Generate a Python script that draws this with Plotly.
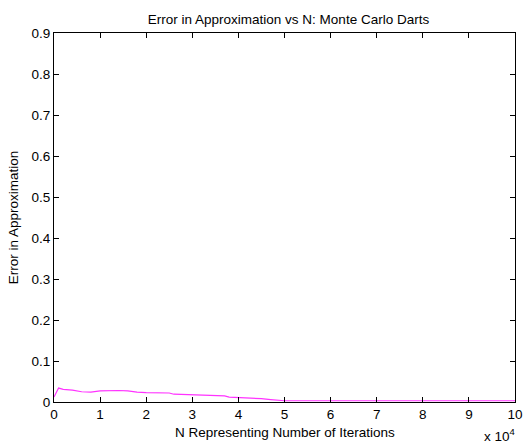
import plotly.graph_objects as go

# Number of darts thrown (iterations)
n_iterations = [0, 1000, 2000, 4000, 6000, 8000, 10000, 12000, 14000, 16000,
                17000, 18000, 20000, 25000, 26000, 28000, 30000, 33000, 37000,
                38000, 40000, 43000, 45000, 47000, 48000, 50000, 60000, 70000,
                80000, 90000, 100000]
# Absolute error of the pi estimate at each N
approx_error = [0.012, 0.034, 0.031, 0.029, 0.025, 0.024, 0.027, 0.028, 0.028,
                0.027, 0.025, 0.024, 0.023, 0.022, 0.019, 0.018, 0.017, 0.016,
                0.015, 0.012, 0.011, 0.010, 0.008, 0.006, 0.005, 0.003, 0.003,
                0.003, 0.003, 0.003, 0.003]

x_tick_vals = [0, 10000, 20000, 30000, 40000, 50000, 60000, 70000, 80000, 90000, 100000]
x_tick_text = ["0", "1", "2", "3", "4", "5", "6", "7", "8", "9", "10"]
y_tick_vals = [0, 0.1, 0.2, 0.3, 0.4, 0.5, 0.6, 0.7, 0.8, 0.9]
y_tick_text = ["0", "0.1", "0.2", "0.3", "0.4", "0.5", "0.6", "0.7", "0.8", "0.9"]

FONT = "Liberation Sans, Arial, sans-serif"
FSIZE = 13.5

fig = go.Figure()
fig.add_trace(go.Scatter(
    x=n_iterations, y=approx_error, mode="lines",
    line=dict(color="#ff33ff", width=1.2),
    showlegend=False,
))

axis_common = dict(
    showgrid=False, zeroline=False, showline=True, linecolor="#000000",
    linewidth=1, mirror="ticks", ticks="inside", ticklen=5, tickcolor="#000000",
    tickfont=dict(family=FONT, size=FSIZE, color="#000000"),
    ticklabeloverflow="allow",
)

fig.update_layout(
    width=530, height=444,
    margin=dict(l=54, r=7, t=33, b=42),
    paper_bgcolor="#ffffff", plot_bgcolor="#ffffff",
    font=dict(family=FONT, size=FSIZE, color="#000000"),
    title=dict(text="Error in Approximation vs N: Monte Carlo Darts",
               x=(54 + 523) / 2 / 530, xanchor="center",
               y=1 - 19 / 444, yanchor="middle",
               font=dict(family=FONT, size=FSIZE, color="#000000")),
    xaxis=dict(range=[0, 100000], tickvals=x_tick_vals, ticktext=x_tick_text,
               **axis_common),
    yaxis=dict(range=[0, 0.9], tickvals=y_tick_vals, ticktext=y_tick_text,
               **axis_common),
    annotations=[
        dict(text="N Representing Number of Iterations", xref="paper", yref="paper",
             x=0.5, y=(402 - 432) / 369, xanchor="center", yanchor="middle",
             showarrow=False, font=dict(family=FONT, size=FSIZE, color="#000000")),
        dict(text="Error in Approximation", xref="paper", yref="paper",
             x=(13 - 54) / 469, y=0.5, xanchor="center", yanchor="middle",
             textangle=-90, showarrow=False,
             font=dict(family=FONT, size=FSIZE, color="#000000")),
        dict(text="x 10<sup>4</sup>", xref="paper", yref="paper",
             x=(507 - 54) / 469, y=(402 - 435) / 369, xanchor="center", yanchor="middle",
             showarrow=False, font=dict(family=FONT, size=FSIZE, color="#000000")),
    ],
)

fig.write_html("out.html")
